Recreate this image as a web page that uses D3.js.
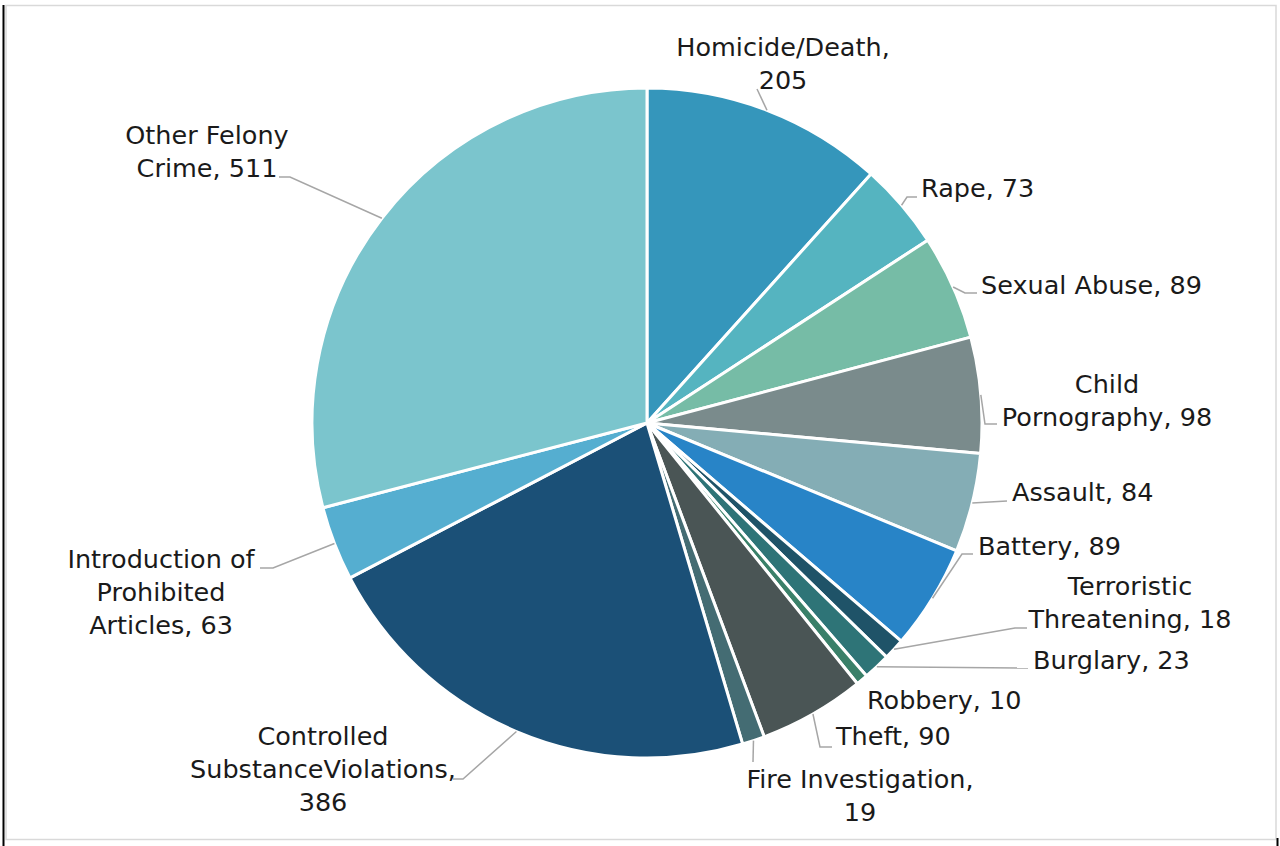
<!DOCTYPE html>
<html>
<head>
<meta charset="utf-8">
<script src="https://cdn.jsdelivr.net/npm/d3@7"></script>
<style>
  html, body { margin: 0; padding: 0; background: #ffffff; }
  svg { display: block; }
</style>
</head>
<body>
<svg id="chart" width="1280" height="846"></svg>
<script>
// ---- data ----
const categories = [
  "Homicide/Death", "Rape", "Sexual Abuse", "Child Pornography", "Assault",
  "Battery", "Terroristic Threatening", "Burglary", "Robbery", "Theft",
  "Fire Investigation", "Controlled SubstanceViolations",
  "Introduction of Prohibited Articles", "Other Felony Crime"
];
const values = [205, 73, 89, 98, 84, 89, 18, 23, 10, 90, 19, 386, 63, 511];
const colors = [
  "#3596BB", "#55B4C0", "#76BCA6", "#7A8B8C", "#84ADB5",
  "#2884C7", "#1F5368", "#2E7477", "#3A8069", "#4A5555",
  "#446C73", "#1B5077", "#55AED0", "#7BC5CD"
];
// label text lines (name wrapped as in the reference, value appended)
const labelLines = [
  ["Homicide/Death,", "205"],
  ["Rape, 73"],
  ["Sexual Abuse, 89"],
  ["Child", "Pornography, 98"],
  ["Assault, 84"],
  ["Battery, 89"],
  ["Terroristic", "Threatening, 18"],
  ["Burglary, 23"],
  ["Robbery, 10"],
  ["Theft, 90"],
  ["Fire Investigation,", "19"],
  ["Controlled", "SubstanceViolations,", "386"],
  ["Introduction of", "Prohibited", "Articles, 63"],
  ["Other Felony", "Crime, 511"]
];

// ---- layout (positions only) ----
const cx = 647, cy = 423, R = 335;
const lineH = 33;
// label anchor: x, first baseline y, text-anchor
const labelLayout = [
  {x: 783,  y: 56,  a: "middle"},
  {x: 921,  y: 197, a: "start"},
  {x: 981,  y: 294, a: "start"},
  {x: 1107, y: 393, a: "middle"},
  {x: 1012, y: 501, a: "start"},
  {x: 978,  y: 555, a: "start"},
  {x: 1130, y: 595, a: "middle"},
  {x: 1033, y: 669, a: "start"},
  {x: 867,  y: 709, a: "start"},
  {x: 836,  y: 745, a: "start"},
  {x: 860,  y: 788, a: "middle"},
  {x: 323,  y: 745, a: "middle"},
  {x: 161,  y: 568, a: "middle"},
  {x: 207,  y: 144, a: "middle"}
];
// leader line points after the arc point (null = no leader)
const leaderLayout = [
  [[757, 89]],
  [[907, 197], [917, 197]],
  [[965, 293], [977, 293]],
  [[985, 424], [997, 424]],
  [[1007, 501]],
  [[962, 554], [973, 554]],
  [[1015, 628], [1027, 628]],
  [[1028, 668]],
  null,
  [[820, 747], [832, 747]],
  [[753, 762]],
  [[463, 779], [453, 779]],
  [[273, 568], [260, 568]],
  [[290, 177], [279, 177]]
];

const data = categories.map((c, i) => ({name: c, value: values[i], i}));

const svg = d3.select("#chart");

// frame
svg.append("rect")
  .attr("x", 6).attr("y", 5.5).attr("width", 1270).attr("height", 834)
  .attr("fill", "#ffffff").attr("stroke", "#d9d9d9").attr("stroke-width", 1.5);
svg.append("line").attr("x1", 3.5).attr("x2", 3.5).attr("y1", 5).attr("y2", 846)
  .attr("stroke", "#000").attr("stroke-width", 2);
svg.append("line").attr("x1", 1277.5).attr("x2", 1277.5).attr("y1", 838).attr("y2", 846)
  .attr("stroke", "#000").attr("stroke-width", 2);

const pie = d3.pie().value(d => d.value).sort(null).startAngle(0).endAngle(2 * Math.PI);
const arcs = pie(data);
const arc = d3.arc().innerRadius(0).outerRadius(R);

const g = svg.append("g").attr("transform", `translate(${cx},${cy})`);
g.selectAll("path.slice")
  .data(arcs)
  .join("path")
  .attr("class", "slice")
  .attr("d", arc)
  .attr("fill", d => colors[d.data.i])
  .attr("stroke", "#ffffff")
  .attr("stroke-width", 3)
  .attr("stroke-linejoin", "round");

// leader lines
const line = d3.line();
arcs.forEach((d, i) => {
  const pts = leaderLayout[i];
  if (!pts) return;
  const mid = (d.startAngle + d.endAngle) / 2;
  const start = [cx + R * Math.sin(mid), cy - R * Math.cos(mid)];
  svg.append("path")
    .attr("d", line([start, ...pts]))
    .attr("fill", "none")
    .attr("stroke", "#a6a6a6")
    .attr("stroke-width", 1.5);
});

// labels
arcs.forEach((d, i) => {
  const L = labelLayout[i];
  const t = svg.append("text")
    .attr("text-anchor", L.a)
    .attr("font-family", "'DejaVu Sans', sans-serif")
    .attr("font-size", 25.5)
    .attr("fill", "#1a1a1a");
  labelLines[i].forEach((s, k) => {
    t.append("tspan").attr("x", L.x).attr("y", L.y + k * lineH).text(s);
  });
});
</script>
</body>
</html>
